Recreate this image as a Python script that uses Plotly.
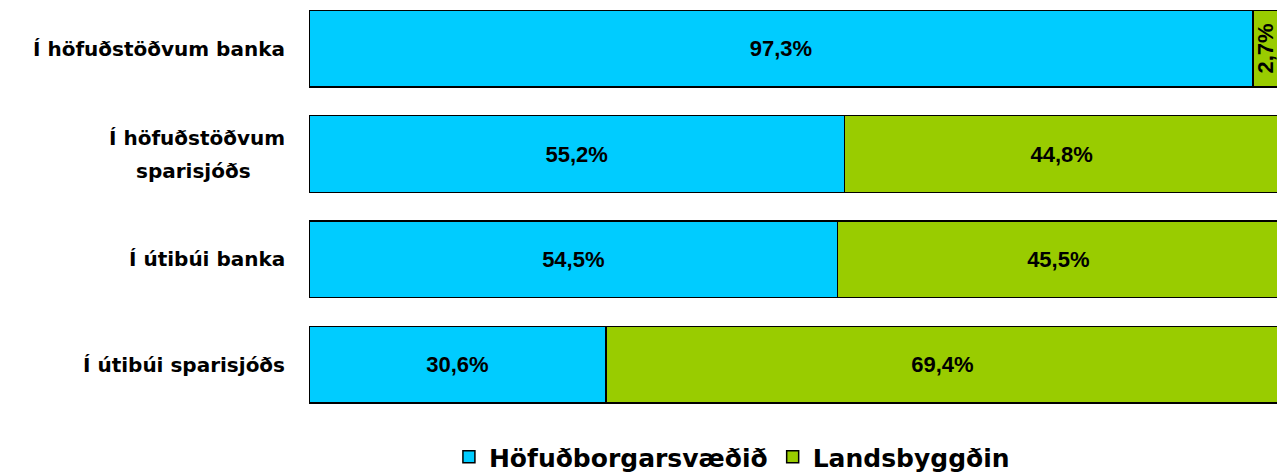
import plotly.graph_objects as go

categories = ["Í höfuðstöðvum banka", "Í höfuðstöðvum<br>sparisjóðs", "Í útibúi banka", "Í útibúi sparisjóðs"]
hofud = [97.3, 55.2, 54.5, 30.6]
lands = [2.7, 44.8, 45.5, 69.4]
series_names = ["Höfuðborgarsvæðið", "Landsbyggðin"]
colors = ["#00CCFF", "#99CC00"]

def fmt(v):
    return f"{v:.1f}".replace(".", ",") + "%"

ypos = list(range(len(categories)))
f_val = "Liberation Sans, Arial, sans-serif"
f_lab = "DejaVu Sans, Verdana, sans-serif"

val_font = dict(family=f_val, size=22, color="black", weight="bold")

fig = go.Figure()
fig.add_trace(go.Bar(
    y=ypos, x=hofud, orientation="h", name=series_names[0],
    marker=dict(color=colors[0], line=dict(color="black", width=1.5)),
    text=[fmt(v) for v in hofud], textposition="inside", insidetextanchor="middle",
    textangle=0, constraintext="none", textfont=val_font,
))
lands_text = [fmt(v) if v > 10 else "" for v in lands]
fig.add_trace(go.Bar(
    y=ypos, x=lands, orientation="h", name=series_names[1],
    marker=dict(color=colors[1], line=dict(color="black", width=1.5)),
    text=lands_text, textposition="inside", insidetextanchor="middle",
    textangle=0, constraintext="none", textfont=val_font,
))

annotations = []
for i, v in enumerate(lands):
    if v <= 10:
        annotations.append(dict(
            x=hofud[i] + v / 2, y=i, xref="x", yref="y", text=fmt(v), textangle=-90,
            showarrow=False, font=val_font,
        ))
for i, c in enumerate(categories):
    lines = c.split("<br>")
    n = len(lines)
    for j, ln in enumerate(lines):
        annotations.append(dict(
            x=-22 / 970, y=i, xref="paper", yref="y", text=ln, xanchor="right",
            xshift=0 if j == 0 else -34,
            yshift=(n - 1) * 16.5 - j * 33,
            showarrow=False, font=dict(family=f_lab, size=20, color="black", weight="bold"),
        ))

fig.update_layout(
    width=1277, height=467,
    barmode="stack", bargap=0.273,
    plot_bgcolor="white", paper_bgcolor="white",
    margin=dict(l=301, r=6, t=0, b=58, autoexpand=False),
    showlegend=True,
    legend=dict(orientation="h", x=0.436, xanchor="center", y=-0.098, yanchor="middle",
                traceorder="normal",
                font=dict(family=f_lab, size=25, color="black", weight="bold")),
    xaxis=dict(range=[0, 100], showgrid=False, showticklabels=False, zeroline=False, showline=False),
    yaxis=dict(range=[3.4975, -0.3865], showgrid=False, showticklabels=False, zeroline=False, showline=False),
    annotations=annotations,
)

fig.write_html("out.html")
